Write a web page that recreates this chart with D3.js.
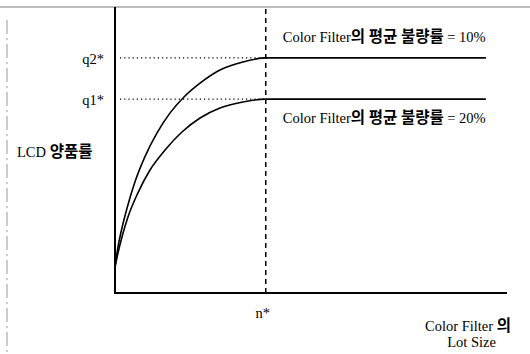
<!DOCTYPE html>
<html>
<head>
<meta charset="utf-8">
<script src="https://cdn.jsdelivr.net/npm/d3@7"></script>
<style>
    body { margin: 0; background: #fff; }
    svg { display: block; }
</style>
</head>
<body>
<svg id="chart" width="530" height="354"></svg>
<script>
// Values (x: lot size, n* = 50; y: yield, axis 0..100)
let nStar = 50;
let xEnd = 123;
let q1 = 67.8;
let q2 = 82.2;

let curveQ2X = [0, 1.0, 2.3, 4.0, 6.6, 9.9, 13.9, 18.2, 23.2, 28.2, 34.8, 42.4, 50, 123];
let curveQ2Y = [9.1, 16.1, 22.7, 29.7, 38.8, 47.6, 55.9, 62.9, 68.9, 73.4, 78.0, 80.8, 82.2, 82.2];
let curveQ1X = [0, 0.7, 2.3, 4.3, 7.6, 11.6, 16.6, 22.2, 28.2, 34.8, 42.4, 50, 123];
let curveQ1Y = [9.1, 12.6, 19.6, 26.6, 35.0, 43.0, 50.0, 56.3, 61.2, 64.7, 66.8, 67.8, 67.8];

let seriesLabels = ["Color Filter의 평균 불량률 = 10%", "Color Filter의 평균 불량률 = 20%"];
let yLevelLabels = ["q2*", "q1*"];
let yTitle = "LCD 양품률";
let xTickLabel = "n*";
let xTitle = ["Color Filter 의", "Lot Size"];

let svg = d3.select("#chart");

let margin = {top: 7, left: 115, right: 23, bottom: 61};
let width = 530 - margin.left - margin.right;
let height = 354 - margin.top - margin.bottom;

let x = d3.scaleLinear().domain([0, 130]).range([margin.left, margin.left + width]);
let y = d3.scaleLinear().domain([0, 100]).range([margin.top + height, margin.top]);

let serif = "'Liberation Serif', 'Times New Roman', serif";

// text with Hangul runs set in a heavier gothic face
function mixedText(sel, str) {
    let runs = str.match(/[\uAC00-\uD7A3\u3130-\u318F]+|[^\uAC00-\uD7A3\u3130-\u318F]+/g);
    runs.forEach(function(r) {
        let hangul = /[\uAC00-\uD7A3]/.test(r);
        sel.append("tspan")
            .text(r)
            .attr("font-family", hangul ? "'Noto Sans CJK KR', sans-serif" : serif)
            .attr("font-weight", hangul ? 700 : 400)
            .attr("font-size", hangul ? 15.5 : 14.5);
    });
}

// frame remnants
svg.append("line")
    .attr("x1", 0).attr("x2", 530)
    .attr("y1", 7).attr("y2", 7)
    .attr("stroke", "#777")
    .attr("stroke-width", 1);
svg.append("line")
    .attr("x1", 7).attr("x2", 7)
    .attr("y1", 20).attr("y2", 354)
    .attr("stroke", "#999")
    .attr("stroke-width", 1)
    .attr("stroke-dasharray", "14,4,2,4");

// guides
let levels = [q2, q1];
svg.selectAll(".guide")
    .data(levels)
    .enter().append("line")
    .attr("class", "guide")
    .attr("x1", x(0) + 5).attr("x2", x(nStar))
    .attr("y1", d => y(d)).attr("y2", d => y(d))
    .attr("stroke", "#000")
    .attr("stroke-width", 1.2)
    .attr("stroke-dasharray", "1.2,3");

svg.append("line")
    .attr("x1", x(nStar)).attr("x2", x(nStar))
    .attr("y1", y(100) + 2).attr("y2", y(0))
    .attr("stroke", "#000")
    .attr("stroke-width", 1.5)
    .attr("stroke-dasharray", "5,4");

// curves
let line = d3.line()
    .x(d => x(d[0]))
    .y(d => y(d[1]))
    .curve(d3.curveMonotoneX);

let curves = [
    d3.zip(curveQ2X, curveQ2Y),
    d3.zip(curveQ1X, curveQ1Y)
];
svg.selectAll(".curve")
    .data(curves)
    .enter().append("path")
    .attr("class", "curve")
    .attr("fill", "none")
    .attr("stroke", "#000")
    .attr("stroke-width", 1.6)
    .attr("d", line);

// axes
svg.append("line")
    .attr("x1", x(0)).attr("x2", x(0))
    .attr("y1", y(100)).attr("y2", y(0))
    .attr("stroke", "#000")
    .attr("stroke-width", 2);
svg.append("line")
    .attr("x1", x(0) - 1).attr("x2", x(130))
    .attr("y1", y(0)).attr("y2", y(0))
    .attr("stroke", "#000")
    .attr("stroke-width", 2);

// labels
svg.selectAll(".lvl")
    .data(levels)
    .enter().append("text")
    .attr("class", "lvl")
    .attr("x", x(0) - 11)
    .attr("y", d => y(d) + 6)
    .attr("text-anchor", "end")
    .attr("font-family", serif)
    .attr("font-size", 14.5)
    .text((d, i) => yLevelLabels[i]);

let yt = svg.append("text")
    .attr("x", 17)
    .attr("y", 157);
mixedText(yt, yTitle);

svg.append("text")
    .attr("x", x(nStar) - 3)
    .attr("y", y(0) + 25)
    .attr("text-anchor", "middle")
    .attr("font-family", serif)
    .attr("font-size", 14.5)
    .text(xTickLabel);

xTitle.forEach(function(t, i) {
    let tx = svg.append("text")
        .attr("x", i == 0 ? 511 : 496)
        .attr("y", 331 + i * 16)
        .attr("text-anchor", "end");
    mixedText(tx, t);
});

svg.selectAll(".series")
    .data(levels)
    .enter().append("text")
    .attr("class", "series")
    .attr("x", x(nStar) + 17)
    .attr("y", (d, i) => i == 0 ? y(d) - 16 : y(d) + 24)
    .each(function(d, i) { mixedText(d3.select(this), seriesLabels[i]); });
</script>
</body>
</html>
